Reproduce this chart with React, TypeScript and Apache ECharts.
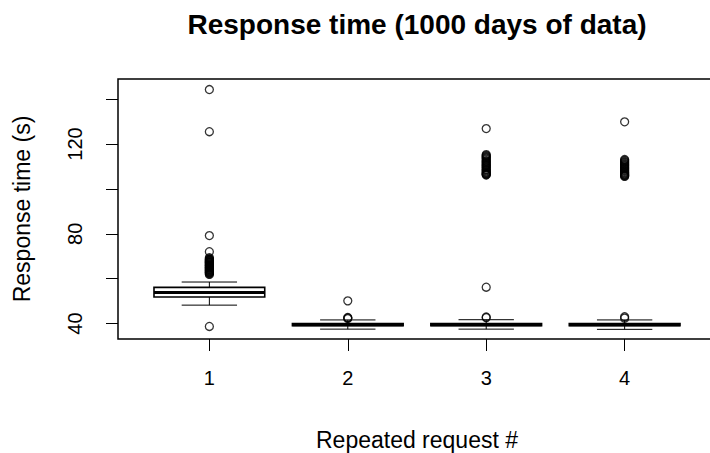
import React, { useEffect, useRef } from "react";
import * as echarts from "echarts";

// Box statistics per repeated request (seconds)
const REQUESTS = [1, 2, 3, 4];
const LOWER_WHISKER = [48.2, 37.5, 37.5, 37.4];
const Q1 = [51.8, 39.0, 39.0, 39.0];
const MEDIAN = [53.8, 39.4, 39.4, 39.4];
const Q3 = [56.1, 40.0, 40.0, 40.0];
const UPPER_WHISKER = [58.5, 41.6, 41.7, 41.6];

// Outlying response times per request
const OUTLIERS_1 = [
  38.7, 61.9, 62.2, 62.5, 62.7, 62.9, 63.2, 63.4, 63.6, 63.9, 64.1, 64.3,
  64.6, 64.8, 65.0, 65.2, 65.4, 65.7, 65.9, 66.1, 66.3, 66.6, 66.8, 67.1,
  67.3, 67.4, 67.7, 67.9, 68.2, 68.3, 68.6, 68.9, 69.3, 72.0, 79.2, 125.5,
  144.3,
];
const OUTLIERS_2 = [42.2, 42.5, 42.7, 50.1];
const OUTLIERS_3 = [
  42.6, 42.9, 56.2, 106.2, 106.4, 106.7, 106.9, 107.3, 107.6, 108.1, 108.5,
  108.8, 109.4, 109.7, 110.2, 110.5, 110.9, 111.4, 111.8, 112.3, 112.6,
  113.2, 113.7, 114.1, 114.5, 114.9, 115.3, 126.9,
];
const OUTLIERS_4 = [
  42.4, 43.0, 105.6, 105.9, 106.1, 106.4, 106.7, 107.1, 107.4, 107.9, 108.3,
  108.8, 109.2, 109.6, 110.1, 110.5, 110.9, 111.3, 111.8, 112.2, 112.7,
  113.1, 129.9,
];
const OUTLIERS = [OUTLIERS_1, OUTLIERS_2, OUTLIERS_3, OUTLIERS_4];

const Y_TICKS = [40, 60, 80, 100, 120, 140];
const Y_LABELS = [40, 80, 120];
const Y_MIN = 33.1;
const Y_MAX = 149.0;
const X_MIN = 0.34;
const X_MAX = 4.66;
const BOX_WIDTH = 0.8;

const FONT = "Liberation Sans, Arial, sans-serif";

export default function App() {
  const ref = useRef<HTMLDivElement>(null);

  useEffect(() => {
    if (!ref.current) return;
    const chart = echarts.init(ref.current, undefined, { renderer: "svg" });

    const boxData = REQUESTS.map((r, i) => [
      r,
      LOWER_WHISKER[i],
      Q1[i],
      MEDIAN[i],
      Q3[i],
      UPPER_WHISKER[i],
    ]);
    const outlierData: number[][] = [];
    OUTLIERS.forEach((list, i) =>
      list.forEach((v) => outlierData.push([REQUESTS[i], v]))
    );

    const lineStyle = { stroke: "#000", lineWidth: 1 };

    chart.setOption({
      animation: false,
      backgroundColor: "#fff",
      textStyle: { fontFamily: FONT, color: "#000" },
      grid: {
        left: 118,
        top: 79,
        bottom: 114,
        right: 0,
        show: true,
        borderColor: "#000",
        borderWidth: 1.5,
        backgroundColor: "transparent",
      },
      xAxis: {
        type: "value",
        min: X_MIN,
        max: X_MAX,
        splitLine: { show: false },
        axisLine: { show: false },
        axisTick: {
          show: true,
          length: 12,
          customValues: REQUESTS,
          lineStyle: { color: "#000", width: 1 },
        },
        axisLabel: {
          customValues: REQUESTS,
          margin: 29,
          fontSize: 20,
          color: "#000",
          fontFamily: FONT,
        },
      },
      yAxis: {
        type: "value",
        min: Y_MIN,
        max: Y_MAX,
        splitLine: { show: false },
        axisLine: { show: false },
        axisTick: {
          show: true,
          length: 12,
          customValues: Y_TICKS,
          lineStyle: { color: "#000", width: 1 },
        },
        axisLabel: {
          customValues: Y_LABELS,
          rotate: 90,
          margin: 33,
          fontSize: 20,
          color: "#000",
          fontFamily: FONT,
        },
      },
      graphic: [
        {
          type: "text",
          x: 417,
          y: 24,
          style: {
            text: "Response time (1000 days of data)",
            font: `bold 28px ${FONT}`,
            fill: "#000",
            align: "center",
            verticalAlign: "middle",
          },
        },
        {
          type: "text",
          x: 417,
          y: 440,
          style: {
            text: "Repeated request #",
            font: `23px ${FONT}`,
            fill: "#000",
            align: "center",
            verticalAlign: "middle",
          },
        },
        {
          type: "text",
          x: 22,
          y: 209,
          rotation: Math.PI / 2,
          style: {
            text: "Response time (s)",
            font: `23px ${FONT}`,
            fill: "#000",
            align: "center",
            verticalAlign: "middle",
          },
        },
      ],
      series: [
        {
          type: "custom",
          data: boxData,
          encode: { x: 0, y: [1, 2, 3, 4, 5] },
          renderItem: (_params: any, api: any) => {
            const x = api.value(0);
            const half = api.size([BOX_WIDTH, 0])[0] / 2;
            const [cx, yLo] = api.coord([x, api.value(1)]);
            const yQ1 = api.coord([x, api.value(2)])[1];
            const yMed = api.coord([x, api.value(3)])[1];
            const yQ3 = api.coord([x, api.value(4)])[1];
            const yHi = api.coord([x, api.value(5)])[1];
            const staple = half / 2;
            return {
              type: "group",
              children: [
                {
                  type: "line",
                  shape: { x1: cx, y1: yQ1, x2: cx, y2: yLo },
                  style: lineStyle,
                },
                {
                  type: "line",
                  shape: { x1: cx, y1: yQ3, x2: cx, y2: yHi },
                  style: lineStyle,
                },
                {
                  type: "line",
                  shape: { x1: cx - staple, y1: yLo, x2: cx + staple, y2: yLo },
                  style: lineStyle,
                },
                {
                  type: "line",
                  shape: { x1: cx - staple, y1: yHi, x2: cx + staple, y2: yHi },
                  style: lineStyle,
                },
                {
                  type: "rect",
                  shape: {
                    x: cx - half,
                    y: yQ3,
                    width: half * 2,
                    height: yQ1 - yQ3,
                  },
                  style: { fill: "#fff", stroke: "#000", lineWidth: 1.6 },
                },
                {
                  type: "line",
                  shape: { x1: cx - half, y1: yMed, x2: cx + half, y2: yMed },
                  style: { stroke: "#000", lineWidth: 3 },
                },
              ],
            };
          },
          z: 2,
        },
        {
          type: "scatter",
          data: outlierData,
          symbol: "circle",
          symbolSize: 8,
          itemStyle: {
            color: "transparent",
            borderColor: "#000",
            borderWidth: 1.3,
          },
          z: 3,
        },
      ],
    });

    return () => chart.dispose();
  }, []);

  // The drawing area runs a few pixels past the right edge of the window,
  // so the plot frame's right side falls outside the visible page.
  return (
    <div
      ref={ref}
      style={{ position: "fixed", left: 0, top: 0, width: 716, height: 453 }}
    />
  );
}
